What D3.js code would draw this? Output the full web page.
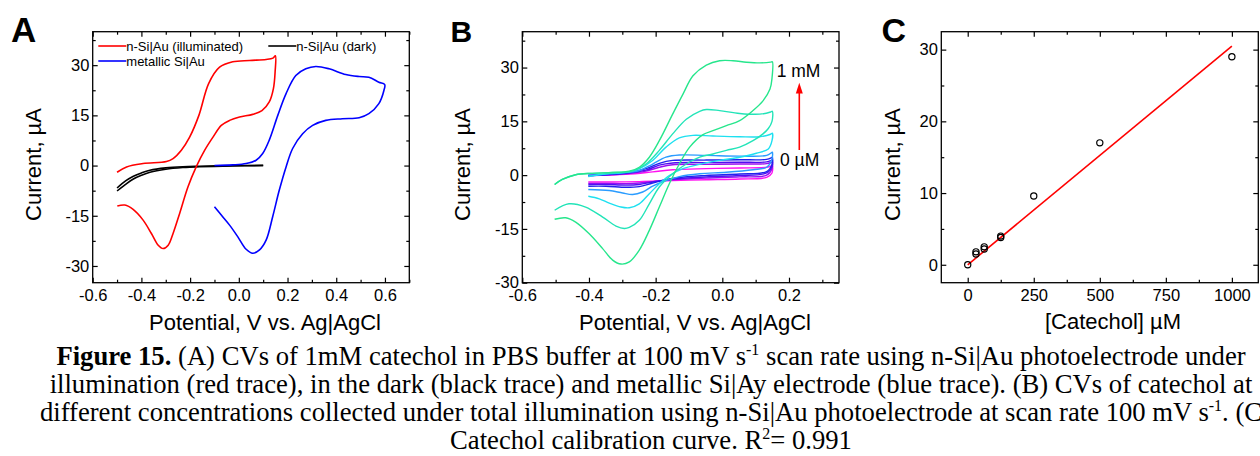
<!DOCTYPE html>
<html><head><meta charset="utf-8">
<script src="https://cdn.jsdelivr.net/npm/d3@7"></script>
<style>body{margin:0;background:#fff} svg{display:block}</style>
</head><body>
<svg id="chart" width="1260" height="456"></svg>
<script>
// ---------------- Panel A data: [potential V, current µA] ----------------
const redIlluminated = [[-0.5,-2.0],[-0.461,-0.4],[-0.393,0.6],[-0.297,1.2],[-0.27,2.1],[-0.236,4.6],[-0.202,8.5],[-0.164,15.0],[-0.124,24.5],[-0.079,29.4],[-0.025,31.0],[0.044,31.4],[0.112,31.7],[0.140,32.1],[0.150,32.8],[0.149,28.0],[0.142,23.0],[0.125,19.0],[0.095,16.4],[0.057,15.3],[0.003,14.5],[-0.038,13.5],[-0.072,12.0],[-0.106,8.5],[-0.14,4.6],[-0.175,-0.4],[-0.209,-6.4],[-0.243,-14.3],[-0.27,-20.3],[-0.29,-23.8],[-0.311,-24.8],[-0.331,-23.8],[-0.359,-20.3],[-0.393,-16.3],[-0.434,-13.1],[-0.468,-11.8],[-0.499,-12.1]];
const darkForward = [[-0.5,-7.6],[-0.465,-5.6],[-0.433,-4.0],[-0.4,-2.9],[-0.365,-2.0],[-0.3,-1.1],[-0.23,-0.6],[-0.161,-0.35],[-0.025,-0.1],[0.1,0.0]];
const darkReverse = [[0.1,0.05],[-0.025,0.0],[-0.161,-0.2],[-0.23,-0.35],[-0.3,-0.7],[-0.365,-1.4],[-0.4,-2.2],[-0.433,-3.2],[-0.465,-4.6],[-0.5,-6.7]];
const metallicSiAu = [[-0.1,0.0],[-0.025,0.2],[0.03,0.6],[0.071,1.6],[0.098,3.6],[0.125,7.6],[0.16,15],[0.194,21.5],[0.234,26.9],[0.275,28.9],[0.316,29.6],[0.371,28.9],[0.439,27.2],[0.494,26.6],[0.534,26.4],[0.575,24.9],[0.599,24.2],[0.596,22.5],[0.575,18.5],[0.534,15.5],[0.494,14.3],[0.425,14.0],[0.357,13.5],[0.303,12.0],[0.262,9.5],[0.221,5.1],[0.194,-0.4],[0.166,-7.4],[0.139,-15.3],[0.112,-22.3],[0.085,-25.2],[0.057,-26.2],[0.03,-25.0],[-0.004,-21.3],[-0.038,-17.8],[-0.072,-14.8],[-0.1,-12.3]];
const legendA = ["n-Si|Au (illuminated)", "n-Si|Au (dark)", "metallic Si|Au"];

// ---------------- Panel B data: CVs at different concentrations ----------------
const cv1000 = [[-0.503,-2.6],[-0.48,-1.2],[-0.44,0.1],[-0.39,0.5],[-0.329,0.74],[-0.279,1.1],[-0.249,2.2],[-0.219,5.0],[-0.189,9.6],[-0.149,17.0],[-0.118,22.6],[-0.088,27.7],[-0.048,30.7],[-0.008,31.9],[0.032,31.9],[0.072,31.5],[0.112,31.3],[0.145,31.5],[0.150,31.6],[0.149,27],[0.143,24.0],[0.122,20.7],[0.092,18.0],[0.052,15.2],[0.012,13.8],[-0.028,12.4],[-0.058,11.3],[-0.098,7.8],[-0.129,3.1],[-0.159,-2.4],[-0.189,-8.9],[-0.219,-15.4],[-0.249,-20.9],[-0.279,-24.2],[-0.304,-24.8],[-0.329,-23.7],[-0.359,-20.5],[-0.4,-16.3],[-0.44,-13.1],[-0.47,-11.9],[-0.503,-12.3]];
const cv500 = [[-0.503,-2.6],[-0.48,-1.2],[-0.44,0.1],[-0.39,0.5],[-0.329,0.74],[-0.269,1.1],[-0.229,3.1],[-0.189,6.9],[-0.149,11.5],[-0.108,15.6],[-0.068,17.8],[-0.048,18.3],[-0.008,18.0],[0.052,17.2],[0.112,17.0],[0.145,17.6],[0.150,17.8],[0.149,15.0],[0.138,13.0],[0.122,11.5],[0.092,9.6],[0.052,7.8],[0.012,6.9],[-0.028,5.9],[-0.068,5.0],[-0.108,3.1],[-0.149,0.4],[-0.189,-3.3],[-0.219,-8.0],[-0.249,-12.6],[-0.279,-14.6],[-0.294,-14.9],[-0.319,-14.2],[-0.359,-11.7],[-0.41,-8.9],[-0.46,-8.0],[-0.503,-9.8]];
const cv250 = [[-0.402,-0.4],[-0.349,0.4],[-0.289,0.8],[-0.249,1.8],[-0.209,4.1],[-0.169,7.8],[-0.129,10.4],[-0.088,11.1],[-0.028,10.9],[0.052,10.7],[0.112,10.7],[0.145,11.4],[0.150,11.7],[0.149,9.6],[0.138,7.3],[0.102,6.1],[0.052,5.0],[-0.008,4.1],[-0.068,3.0],[-0.118,1.8],[-0.159,-0.1],[-0.189,-2.4],[-0.219,-5.2],[-0.249,-8.0],[-0.279,-9.1],[-0.304,-8.9],[-0.339,-7.8],[-0.369,-6.6],[-0.402,-5.9]];
const cv125 = [[-0.402,-0.1],[-0.309,0.55],[-0.249,1.3],[-0.209,3.1],[-0.169,5.0],[-0.129,5.6],[-0.048,5.5],[0.052,5.3],[0.133,5.5],[0.148,6.3],[0.150,6.4],[0.149,4.5],[0.133,2.2],[0.092,1.5],[0.012,0.8],[-0.068,0.4],[-0.129,-0.4],[-0.169,-1.5],[-0.209,-3.1],[-0.239,-4.7],[-0.269,-5.4],[-0.299,-5.0],[-0.339,-4.3],[-0.402,-4.0]];
const cv62 = [[-0.402,-0.1],[-0.289,0.55],[-0.229,1.8],[-0.189,3.3],[-0.149,4.1],[-0.048,4.2],[0.052,4.3],[0.133,4.4],[0.148,4.9],[0.150,5.0],[0.149,3.0],[0.133,1.0],[0.052,0.3],[-0.048,-0.1],[-0.149,-0.9],[-0.209,-2.2],[-0.249,-3.2],[-0.289,-3.4],[-0.349,-3.1],[-0.402,-3.1]];
const cv31 = [[-0.402,-0.1],[-0.289,0.5],[-0.229,1.4],[-0.189,2.8],[-0.149,3.4],[-0.048,3.5],[0.052,3.6],[0.133,3.7],[0.148,4.2],[0.150,4.3],[0.149,2.4],[0.133,0.6],[0.052,-0.1],[-0.048,-0.5],[-0.149,-1.1],[-0.209,-1.9],[-0.249,-2.6],[-0.289,-2.8],[-0.349,-2.6],[-0.402,-2.6]];
const cv15 = [[-0.402,-0.1],[-0.289,0.4],[-0.229,1.1],[-0.189,2.2],[-0.149,2.9],[-0.048,3.0],[0.052,3.1],[0.133,3.2],[0.148,3.6],[0.150,3.7],[0.149,1.8],[0.133,0.0],[0.052,-0.5],[-0.048,-0.8],[-0.149,-1.3],[-0.209,-1.8],[-0.249,-2.2],[-0.289,-2.4],[-0.349,-2.3],[-0.402,-2.3]];
const cv0 = [[-0.402,-0.2],[-0.289,0.2],[-0.209,0.9],[-0.149,1.5],[-0.048,1.8],[0.052,2.0],[0.133,2.2],[0.148,2.6],[0.150,2.7],[0.149,0.6],[0.133,-0.6],[0.052,-1.1],[-0.048,-1.3],[-0.149,-1.5],[-0.249,-1.8],[-0.349,-1.9],[-0.402,-1.9]];
const bCurves = [cv0, cv15, cv31, cv62, cv125, cv250, cv500, cv1000];
const bColors = ["#FF10F0", "#9A10F0", "#5010F0", "#2222EE", "#2A9CFF", "#1EE0F0", "#22E4B8", "#26E68C"];
const bLabels = ["1 mM", "0 µM"];

// ---------------- Panel C data ----------------
const catecholConc = [0, 31.25, 31.25, 62.5, 62.5, 125, 125, 250, 500, 1000];
const catecholCurrent = [0, 1.5, 1.8, 2.2, 2.5, 3.8, 4.0, 9.6, 17.0, 29.0];
const fitConc = [0, 1000];
const fitCurrent = [0, 30.5];

// ---------------- Tick values ----------------
const aXTicks = [-0.6,-0.4,-0.2,0,0.2,0.4,0.6];
const aXMinor = [-0.5,-0.3,-0.1,0.1,0.3,0.5,0.7];
const aYTicks = [-30,-15,0,15,30];
const aYMinor = [-22.5,-7.5,7.5,22.5,37.5];
const bXTicks = [-0.6,-0.4,-0.2,0,0.2];
const bXMinor = [-0.5,-0.3,-0.1,0.1,0.3];
const bYTicks = [-30,-15,0,15,30];
const bYMinor = [-22.5,-7.5,7.5,22.5,37.5];
const cXTicks = [0,250,500,750,1000];
const cXMinor = [125,375,625,875];
const cYTicks = [0,10,20,30];
const cYMinor = [5,15,25];

const SANS = "'Liberation Sans', Arial, Helvetica, sans-serif";
const SERIF = "'Liberation Serif', 'Times New Roman', serif";
const svg = d3.select("#chart");

function makePanel(cfg) {
  const x = d3.scaleLinear().domain(cfg.xDomain).range([cfg.left, cfg.right]);
  const y = d3.scaleLinear().domain(cfg.yDomain).range([cfg.bottom, cfg.top]);
  const g = svg.append("g");
  const W = cfg.right - cfg.left, H = cfg.bottom - cfg.top;
  function axis(fn, scale, vals, size, fmt, tx, ty, pad) {
    const a = fn(scale).tickValues(vals).tickSizeInner(-size).tickSizeOuter(0)
      .tickPadding(pad || 0).tickFormat(fmt || (() => ""));
    const ag = g.append("g").attr("transform", `translate(${tx},${ty})`).call(a);
    ag.select(".domain").remove();
    ag.selectAll(".tick line").attr("stroke", "#000").attr("stroke-width", 1.2);
    ag.selectAll("text").attr("font-family", SANS).attr("font-size", 16.5).attr("fill", "#000");
    return ag;
  }
  axis(d3.axisBottom, x, cfg.xTicks, 5, cfg.xFmt, 0, cfg.bottom, 6.3);
  axis(d3.axisBottom, x, cfg.xMinor, 3, null, 0, cfg.bottom);
  axis(d3.axisTop, x, cfg.xTicks, 5, null, 0, cfg.top);
  axis(d3.axisTop, x, cfg.xMinor, 3, null, 0, cfg.top);
  axis(d3.axisLeft, y, cfg.yTicks, 5, cfg.yFmt, cfg.left, 0, 3.4);
  axis(d3.axisLeft, y, cfg.yMinor, 3, null, cfg.left, 0);
  axis(d3.axisRight, y, cfg.yTicks, 5, null, cfg.right, 0);
  axis(d3.axisRight, y, cfg.yMinor, 3, null, cfg.right, 0);
  g.append("rect").attr("x", cfg.left).attr("y", cfg.top).attr("width", W).attr("height", H)
    .attr("fill", "none").attr("stroke", "#000").attr("stroke-width", 1.3);
  // titles
  g.append("text").attr("x", cfg.xTitleX).attr("y", cfg.xTitleY).attr("text-anchor", "middle")
    .attr("font-family", SANS).attr("font-size", 22).text(cfg.xTitle);
  g.append("text").attr("transform", `translate(${cfg.yTitleX},${cfg.yTitleY}) rotate(-90)`)
    .attr("text-anchor", "middle").attr("font-family", SANS).attr("font-size", 22).text("Current, µA");
  g.append("text").attr("x", cfg.letterX).attr("y", 41.7).attr("font-family", SANS)
    .attr("font-weight", "bold").attr("font-size", cfg.letterSize).text(cfg.letter);
  return {g, x, y};
}

const f1 = d => d.toFixed(1);
const f0 = d => String(d);

// ---------- Panel A ----------
const A = makePanel({left: 92.7, right: 409.3, top: 31.7, bottom: 282.7,
  xDomain: [-0.6, 0.7], yDomain: [-35, 40],
  xTicks: aXTicks, xMinor: aXMinor, yTicks: aYTicks, yMinor: aYMinor, xFmt: f1, yFmt: f0,
  xTitle: "Potential, V vs. Ag|AgCl", xTitleX: 265, xTitleY: 330, yTitleX: 40.5, yTitleY: 164.5,
  letter: "A", letterX: 11, letterSize: 35});
const lineA = d3.line().x(d => A.x(d[0])).y(d => A.y(d[1])).curve(d3.curveCatmullRom.alpha(0.5));
[[darkForward, "#000"], [darkReverse, "#000"], [redIlluminated, "#FF0000"], [metallicSiAu, "#0000FF"]]
  .forEach(([data, col]) => A.g.append("path").attr("d", lineA(data)).attr("fill", "none")
    .attr("stroke", col).attr("stroke-width", 1.6));
// legend
const legCols = ["#FF0000", "#000", "#0000FF"];
const legPos = [[98.3, 46], [268.3, 46], [98.3, 61]];
legendA.forEach((t, i) => {
  const [lx, ly] = legPos[i];
  A.g.append("line").attr("x1", lx).attr("x2", lx + 28).attr("y1", ly).attr("y2", ly)
    .attr("stroke", legCols[i]).attr("stroke-width", 1.6);
  A.g.append("text").attr("x", lx + 28).attr("y", ly + 4.7).attr("font-family", SANS)
    .attr("font-size", 13).text(t);
});

// ---------- Panel B ----------
const B = makePanel({left: 522.3, right: 839, top: 31.7, bottom: 282.7,
  xDomain: [-0.6, 0.35], yDomain: [-30, 40],
  xTicks: bXTicks, xMinor: bXMinor, yTicks: bYTicks, yMinor: bYMinor, xFmt: f1, yFmt: f0,
  xTitle: "Potential, V vs. Ag|AgCl", xTitleX: 695, xTitleY: 330, yTitleX: 470, yTitleY: 164.5,
  letter: "B", letterX: 450.5, letterSize: 30});
const lineB = d3.line().x(d => B.x(d[0])).y(d => B.y(d[1])).curve(d3.curveCatmullRom.alpha(0.5));
bCurves.forEach((data, i) => B.g.append("path").attr("d", lineB(data)).attr("fill", "none")
  .attr("stroke", bColors[i]).attr("stroke-width", 1.4));
B.g.append("text").attr("x", 776.7).attr("y", 77).attr("font-family", SANS).attr("font-size", 17.5).text(bLabels[0]);
B.g.append("text").attr("x", 780).attr("y", 166).attr("font-family", SANS).attr("font-size", 17.5).text(bLabels[1]);
B.g.append("line").attr("x1", 799.3).attr("x2", 799.3).attr("y1", 150).attr("y2", 92)
  .attr("stroke", "#FF0000").attr("stroke-width", 1.6);
B.g.append("path").attr("d", "M799.3,82.7 L802.8,93.5 L795.8,93.5 Z").attr("fill", "#FF0000");

// ---------- Panel C ----------
const C = makePanel({left: 941.3, right: 1258.3, top: 31.7, bottom: 282.7,
  xDomain: [-100, 1100], yDomain: [-2.5, 32.5],
  xTicks: cXTicks, xMinor: cXMinor, yTicks: cYTicks, yMinor: cYMinor, xFmt: f0, yFmt: f0,
  xTitle: "[Catechol] µM", xTitleX: 1113, xTitleY: 328.5, yTitleX: 900, yTitleY: 164.5,
  letter: "C", letterX: 881.5, letterSize: 34});
C.g.append("line").attr("x1", C.x(fitConc[0])).attr("y1", C.y(fitCurrent[0]))
  .attr("x2", C.x(fitConc[1])).attr("y2", C.y(fitCurrent[1]))
  .attr("stroke", "#FF0000").attr("stroke-width", 1.6);
C.g.selectAll("circle.pt").data(catecholConc.map((c, i) => [c, catecholCurrent[i]])).enter()
  .append("circle").attr("cx", d => C.x(d[0])).attr("cy", d => C.y(d[1])).attr("r", 3.1)
  .attr("fill", "none").attr("stroke", "#000").attr("stroke-width", 1.2);

// ---------- Caption ----------
const captionLines = [
  [["Figure 15.", "b"], [" (A) CVs of 1mM catechol in PBS buffer at 100 mV s", "n"], ["-1", "s"], [" scan rate using n-Si|Au photoelectrode under", "n"]],
  [["illumination (red trace), in the dark (black trace) and metallic Si|Ay electrode (blue trace). (B) CVs of catechol at", "n"]],
  [["different concentrations collected under total illumination using n-Si|Au photoelectrode at scan rate 100 mV s", "n"], ["-1", "s"], [". (C", "n"]],
  [["Catechol calibration curve. R", "n"], ["2", "s"], ["= 0.991", "n"]]
];
const capBaselines = [365, 393, 421, 449];
function drawCaption(fs) {
  svg.selectAll("g.caption").remove();
  const cg = svg.append("g").attr("class", "caption");
  const texts = captionLines.map((parts, li) => {
    const t = cg.append("text").attr("x", 651).attr("y", capBaselines[li]).attr("text-anchor", "middle")
      .attr("font-family", SERIF).attr("font-size", fs).attr("fill", "#000");
    parts.forEach(([s, k]) => {
      const ts = t.append("tspan").text(s);
      if (k === "b") ts.attr("font-weight", "bold");
      if (k === "s") ts.attr("font-size", fs * 0.6).attr("dy", -fs * 0.38);
      if (k === "n" && t.selectAll("tspan").size() > 1) {
        const prev = parts[parts.indexOf(parts.find(p => p[0] === s)) - 1];
        if (prev && prev[1] === "s") ts.attr("dy", fs * 0.38);
      }
    });
    return t;
  });
  return texts;
}
let texts = drawCaption(24);
const w1 = texts[0].node().getComputedTextLength();
drawCaption(24 * 1190 / w1);
</script>
</body></html>
